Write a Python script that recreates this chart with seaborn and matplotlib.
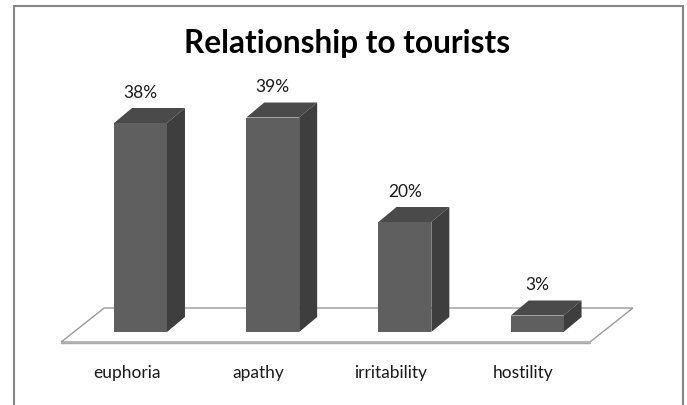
import matplotlib
matplotlib.use("Agg")
import matplotlib.pyplot as plt
import seaborn as sns
import pandas as pd
from matplotlib.patches import Polygon, Rectangle
from matplotlib.transforms import IdentityTransform, ScaledTranslation

categories = ["euphoria", "apathy", "irritability", "hostility"]
values = [38, 39, 20, 3]
value_labels = ["38%", "39%", "20%", "3%"]
title = "Relationship to tourists"

sns.set_theme(style="white")
plt.rcParams["font.family"] = ["Lato", "DejaVu Sans"]

W, H = 687, 405
fig = plt.figure(figsize=(W / 100, H / 100), dpi=100)
fig.patch.set_facecolor("white")

# axes placement (pixels)
ax_left, ax_bottom_px, ax_w, ax_h = 61.2, 332.0, 528.8, 247.5
ax = fig.add_axes([ax_left / W, (H - ax_bottom_px) / H, ax_w / W, ax_h / H])
ax.set_facecolor("none")

df = pd.DataFrame({"category": categories, "value": values})
front_col = "#5f5f5f"
side_col = "#3e3e3e"
top_col = "#4a4a4a"
sns.barplot(data=df, x="category", y="value", color=front_col, width=0.4,
            saturation=1, ax=ax, zorder=3, linewidth=0)
ax.set_xlim(-0.6, 3.4)
ax.set_ylim(0, 45)
ax.set_xlabel("")
ax.set_ylabel("")
ax.set_yticks([])
for s in ax.spines.values():
    s.set_visible(False)

fig.canvas.draw()
tr = ax.transData

# floor (parallelogram) derived from axis limits
x0, x1 = ax.get_xlim()
fl = tr.transform((x0, 0))
fr = tr.transform((x1, 0))
front_dy = -10
bdx, bdy = 43, 34
floor_pts = [(fl[0], fl[1] + front_dy), (fr[0], fr[1] + front_dy),
             (fr[0] + bdx, fr[1] + front_dy + bdy), (fl[0] + bdx, fl[1] + front_dy + bdy)]
ax.add_patch(Polygon(floor_pts, closed=True, facecolor="white", edgecolor="#9a9a9a",
                     linewidth=1.0, transform=IdentityTransform(), zorder=1, clip_on=False))
ax.plot([floor_pts[0][0], floor_pts[1][0]], [floor_pts[0][1] - 1, floor_pts[1][1] - 1],
        color="#a8a8a8", linewidth=1.0, transform=IdentityTransform(), zorder=1, clip_on=False)

# 3D side and top faces for each bar
dx, dy = 18, 15
for patch, lab in zip(ax.patches, value_labels):
    if not isinstance(patch, Rectangle):
        continue
    bx, by = patch.get_x(), patch.get_y()
    bw, bh = patch.get_width(), patch.get_height()
    tl = tr.transform((bx, by + bh))
    trr = tr.transform((bx + bw, by + bh))
    br = tr.transform((bx + bw, by))
    top = [tl, trr, (trr[0] + dx, trr[1] + dy), (tl[0] + dx, tl[1] + dy)]
    side = [trr, br, (br[0] + dx, br[1] + dy), (trr[0] + dx, trr[1] + dy)]
    ax.add_patch(Polygon(top, closed=True, facecolor=top_col, edgecolor="none",
                         transform=IdentityTransform(), zorder=2.5, clip_on=False))
    ax.add_patch(Polygon(side, closed=True, facecolor=side_col, edgecolor="none",
                         transform=IdentityTransform(), zorder=2.5, clip_on=False))
    ax.text(bx + bw / 2, by + bh, lab, ha="center", va="center", fontsize=12.5,
            color="#1a1a1a",
            transform=tr + ScaledTranslation(0, 30 / 100, fig.dpi_scale_trans))

# category labels
ax.tick_params(axis="x", length=0, pad=24, labelsize=12.5, labelcolor="#1a1a1a")
for t in ax.get_xticklabels():
    t.set_transform(t.get_transform() + ScaledTranslation(-14 / 100, 0, fig.dpi_scale_trans))

# title
fig.text(347 / W, 1 - 44 / H, title, ha="center", va="center", fontsize=22.8,
         fontweight="bold", color="black")

# chart border
fig.patches.append(Rectangle((14 / W, -0.05), (683 - 14) / W, (1 - 5.5 / H) + 0.05,
                             transform=fig.transFigure, fill=False, edgecolor="#868686",
                             linewidth=1.5, zorder=10))

fig.savefig("out.png", dpi=100, facecolor="white")
